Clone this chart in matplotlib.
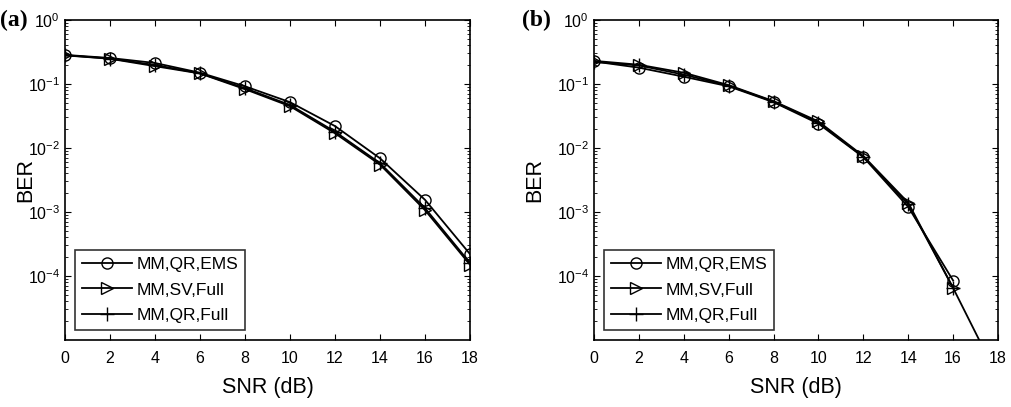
import matplotlib
matplotlib.use("Agg")
import matplotlib.pyplot as plt
from matplotlib.ticker import LogLocator, NullFormatter

plt.rcParams['font.family'] = ['Liberation Sans', 'DejaVu Sans']
plt.rcParams['mathtext.fontset'] = 'custom'
plt.rcParams['mathtext.rm'] = 'Liberation Sans'
plt.rcParams['mathtext.it'] = 'Liberation Sans:italic'

snr = [0, 2, 4, 6, 8, 10, 12, 14, 16, 18]
snr_b_full = [0, 2, 4, 6, 8, 10, 12, 14, 16, 18]
snr_b = [0, 2, 4, 6, 8, 10, 12, 14, 16]

# Panel (a)
a_qr_ems = [0.285, 0.255, 0.213, 0.150, 0.092, 0.052, 0.022, 0.0069, 0.00155, 0.00022]
a_sv_full = [0.280, 0.248, 0.190, 0.146, 0.083, 0.045, 0.017, 0.0055, 0.00107, 0.000150]
a_qr_full = [0.282, 0.250, 0.198, 0.147, 0.086, 0.047, 0.018, 0.0058, 0.00115, 0.000160]

# Panel (b)
b_qr_ems = [0.225, 0.180, 0.130, 0.092, 0.052, 0.024, 0.0072, 0.00120, 0.000085]
b_sv_full = [0.230, 0.200, 0.150, 0.096, 0.054, 0.026, 0.0075, 0.00140, 0.000065]
b_qr_full = [0.222, 0.195, 0.140, 0.094, 0.053, 0.025, 0.0073, 0.00132, 0.000065, 0.0000026]

labels = ['MM,QR,EMS', 'MM,SV,Full', 'MM,QR,Full']
xticks = [0, 2, 4, 6, 8, 10, 12, 14, 16, 18]

fig = plt.figure(figsize=(10.12, 4.07), dpi=100)
ax_a = fig.add_axes([65/1012, 67/407, 405/1012, 320/407])
ax_b = fig.add_axes([594/1012, 67/407, 404/1012, 320/407])


def style(ax, panel, panel_x, ylab_x):
    ax.set_yscale('log')
    ax.set_xlim(0, 18)
    ax.set_ylim(1e-5, 1)
    ax.set_xticks(xticks)
    ax.set_yticks([1e0, 1e-1, 1e-2, 1e-3, 1e-4])
    ax.yaxis.set_minor_locator(LogLocator(base=10, subs=range(2, 10), numticks=20))
    ax.yaxis.set_minor_formatter(NullFormatter())
    ax.tick_params(which='both', direction='in', top=True, right=True, labelsize=11.5)
    ax.tick_params(which='major', length=4, width=0.8)
    ax.tick_params(which='minor', length=2, width=0.6)
    ax.tick_params(axis='x', pad=8)
    for s in ax.spines.values():
        s.set_linewidth(1.2)
    ax.set_xlabel('SNR (dB)', fontsize=15.5, labelpad=8)
    ax.set_ylabel('BER', fontsize=15.5)
    ax.yaxis.set_label_coords(ylab_x, 0.5)
    ax.text(panel_x, 1.0, panel, transform=ax.transAxes, fontsize=17,
            fontweight='bold', family='Liberation Serif', ha='left', va='center')
    leg = ax.legend(loc='lower left', bbox_to_anchor=(0.025, 0.031), fontsize=12.5,
                    handlelength=2.9, frameon=True, fancybox=False,
                    edgecolor='black', borderpad=0.4, labelspacing=0.6,
                    handletextpad=0.25, borderaxespad=0)
    leg.get_frame().set_linewidth(1.2)


kw = dict(color='black', lw=1.3, mfc='none', mec='black')
ax_a.plot(snr, a_qr_ems, marker='o', ms=8, label=labels[0], **kw)
ax_a.plot(snr, a_sv_full, marker='>', ms=8, label=labels[1], **kw)
ax_a.plot(snr, a_qr_full, marker='+', ms=10, label=labels[2], **kw)
style(ax_a, '(a)', -0.16, -0.071)

ax_b.plot(snr_b, b_qr_ems, marker='o', ms=8, label=labels[0], **kw)
ax_b.plot(snr_b, b_sv_full, marker='>', ms=8, label=labels[1], **kw)
ax_b.plot(snr_b_full, b_qr_full, marker='+', ms=10, label=labels[2], **kw)
style(ax_b, '(b)', -0.178, -0.121)

fig.savefig('out.png', dpi=100)
